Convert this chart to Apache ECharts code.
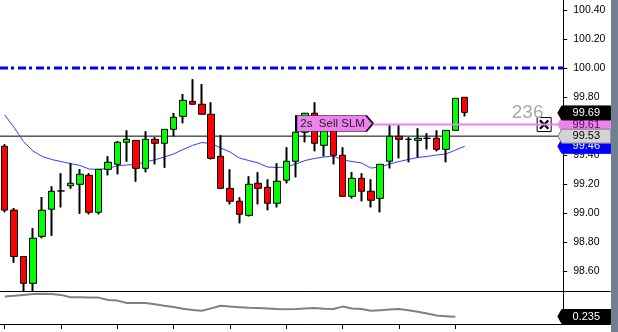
<!DOCTYPE html>
<html><head><meta charset="utf-8">
<script src="https://cdn.jsdelivr.net/npm/echarts@6/dist/echarts.min.js"></script>
<style>html,body{margin:0;padding:0;background:#fff;overflow:hidden}#c{width:618px;height:332px}</style>
</head><body><div id="c"></div>
<script>
// ---- data ----
const slots = Array.from({length: 65}, (_, i) => String(i + 1)); // time slots (50 bars + empty space)
// [open, close, low, high]
const ohlc = [
  [99.460, 99.020, 99.005, 99.474],
  [99.020, 98.700, 98.657, 99.034],
  [98.700, 98.515, 98.462, 98.700],
  [98.515, 98.826, 98.462, 98.895],
  [98.839, 99.019, 98.826, 99.110],
  [99.026, 99.150, 98.843, 99.184],
  [99.152, 99.152, 99.039, 99.274],
  [99.188, 99.205, 99.168, 99.343],
  [99.198, 99.267, 98.995, 99.303],
  [99.260, 99.005, 98.991, 99.274],
  [99.005, 99.301, 98.991, 99.301],
  [99.301, 99.350, 99.260, 99.391],
  [99.336, 99.488, 99.267, 99.495],
  [99.488, 99.508, 99.354, 99.570],
  [99.501, 99.308, 99.216, 99.501],
  [99.308, 99.508, 99.281, 99.563],
  [99.508, 99.481, 99.336, 99.522],
  [99.481, 99.577, 99.312, 99.577],
  [99.577, 99.660, 99.529, 99.690],
  [99.667, 99.777, 99.619, 99.821],
  [99.770, 99.750, 99.750, 99.922],
  [99.750, 99.681, 99.681, 99.890],
  [99.681, 99.377, 99.370, 99.763],
  [99.391, 99.170, 99.170, 99.536],
  [99.170, 99.081, 99.060, 99.301],
  [99.081, 98.991, 98.929, 99.108],
  [98.984, 99.198, 98.977, 99.253],
  [99.205, 99.170, 99.060, 99.281],
  [99.177, 99.067, 99.019, 99.232],
  [99.067, 99.219, 99.039, 99.343],
  [99.226, 99.357, 99.205, 99.453],
  [99.357, 99.557, 99.246, 99.560],
  [99.557, 99.688, 99.488, 99.690],
  [99.688, 99.481, 99.426, 99.763],
  [99.467, 99.580, 99.391, 99.600],
  [99.580, 99.398, 99.336, 99.600],
  [99.398, 99.115, 99.115, 99.453],
  [99.115, 99.239, 99.101, 99.281],
  [99.239, 99.150, 99.081, 99.274],
  [99.150, 99.088, 99.039, 99.232],
  [99.101, 99.336, 99.005, 99.336],
  [99.357, 99.529, 99.308, 99.605],
  [99.529, 99.508, 99.377, 99.605],
  [99.508, 99.508, 99.350, 99.522],
  [99.501, 99.515, 99.384, 99.584],
  [99.515, 99.515, 99.439, 99.550],
  [99.515, 99.439, 99.426, 99.570],
  [99.439, 99.570, 99.350, 99.570],
  [99.570, 99.791, 99.570, 99.791],
  [99.798, 99.694, 99.667, 99.798]
];
const maValues = [99.676, 99.590, 99.493, 99.428, 99.390, 99.369, 99.355, 99.341, 99.328, 99.303,
  99.301, 99.307, 99.326, 99.331, 99.336, 99.352, 99.367, 99.386, 99.407, 99.438,
  99.466, 99.486, 99.479, 99.448, 99.421, 99.379, 99.362, 99.345, 99.317, 99.314,
  99.317, 99.338, 99.362, 99.376, 99.386, 99.393, 99.366, 99.355, 99.345, 99.310,
  99.317, 99.338, 99.355, 99.369, 99.383, 99.390, 99.400, 99.407, 99.434, 99.460];
const indicator = [0.302, 0.304, 0.307, 0.310, 0.311, 0.310, 0.307, 0.299, 0.299, 0.298,
  0.298, 0.290, 0.288, 0.280, 0.280, 0.280, 0.276, 0.271, 0.267, 0.261,
  0.257, 0.254, 0.262, 0.271, 0.268, 0.266, 0.264, 0.263, 0.262, 0.260,
  0.259, 0.260, 0.262, 0.263, 0.261, 0.260, 0.268, 0.262, 0.260, 0.254,
  0.256, 0.258, 0.260, 0.256, 0.251, 0.245, 0.238, 0.236, 0.234, null];
const roundLevel = 100.00;
const refLevel = 99.53;
const signalLevel = 99.61;
const signalText = '2s  Sell SLM';
const countText = '236';
const signalStart = 39.2, signalLabelAt = 35.14, countAt = 55.7, closeBoxAt = 57.46;
const lineEnd = 59.5;
const tickEvery = 6;
const tags = [ // drawn in this order
  {axis: 0, value: 99.61, bg: '#ee82ee', fg: '#4a0a4a', border: '#ee82ee', text: '99.61'},
  {axis: 0, value: 99.46, bg: '#0000ff', fg: '#ffffff', border: '#0000ff', text: '99.46'},
  {axis: 0, value: 99.69, bg: '#000000', fg: '#ffffff', border: '#000000', text: '99.69'},
  {axis: 0, value: 99.53, bg: '#d3d3d3', fg: '#000000', border: '#808080', text: '99.53'},
  {axis: 1, value: 0.235, bg: '#000000', fg: '#ffffff', border: '#000000', text: '0.235'}
];

const FONT = "'Liberation Sans', Arial, sans-serif";
const chart = echarts.init(document.getElementById('c'), null, {renderer: 'canvas'});
const BAND = 9.41;
const option = {
  animation: false,
  backgroundColor: '#ffffff',
  textStyle: {fontFamily: FONT},
  grid: [
    {left: -1.4, top: 0, width: BAND * 65, height: 291},
    {left: -1.4, top: 291, width: BAND * 65, height: 33}
  ],
  xAxis: [
    {type: 'category', gridIndex: 0, data: slots, boundaryGap: true,
     axisLine: {show: true, onZero: false, lineStyle: {color: '#000', width: 1}},
     axisTick: {show: false}, axisLabel: {show: false}, splitLine: {show: false}},
    {type: 'category', gridIndex: 1, data: slots, boundaryGap: true,
     axisLine: {show: true, onZero: false, lineStyle: {color: '#000', width: 1}},
     axisTick: {show: true, alignWithLabel: true, length: 5, lineStyle: {color: '#000'},
       interval: (idx) => idx % tickEvery === 0 && idx < ohlc.length},
     axisLabel: {show: false}, splitLine: {show: false}},
    {type: 'value', gridIndex: 0, min: -0.5, max: 64.5, show: false,
     axisLine: {show: false, onZero: false}, splitLine: {show: false}}
  ],
  yAxis: [
    {type: 'value', gridIndex: 0, position: 'right', offset: -BAND * 5,
     min: 98.462, max: 100.469, minInterval: 0.2, maxInterval: 0.2, splitNumber: 10,
     axisLine: {show: true, onZero: false, lineStyle: {color: '#000', width: 1}},
     axisTick: {show: true, length: 4, lineStyle: {color: '#000'}},
     axisLabel: {show: true, margin: 10, color: '#000', fontSize: 10.5, fontFamily: FONT,
       formatter: v => v.toFixed(2), showMinLabel: false, showMaxLabel: false},
     splitLine: {show: false}},
    {type: 'value', gridIndex: 1, position: 'right', offset: -BAND * 5, min: 0.21, max: 0.32,
     axisLine: {show: true, onZero: false, lineStyle: {color: '#000', width: 1}},
     axisTick: {show: false}, axisLabel: {show: false}, splitLine: {show: false}}
  ],
  series: [
    {name: 'ref', type: 'line', xAxisIndex: 2, yAxisIndex: 0, data: [[-0.5, refLevel], [lineEnd, refLevel]],
     symbol: 'none', z: 1, silent: true, lineStyle: {color: '#000', width: 1}},
    {name: 'round', type: 'line', xAxisIndex: 2, yAxisIndex: 0, data: [[-0.5, roundLevel], [lineEnd, roundLevel]],
     symbol: 'none', z: 1, silent: true, lineStyle: {color: '#0000ff', width: 3, type: [8, 3, 3, 4]}},
    {name: 'MA', type: 'line', xAxisIndex: 0, yAxisIndex: 0, data: maValues, symbol: 'none', z: 2,
     lineStyle: {color: '#3a3aff', width: 1}},
    {name: 'wick', type: 'candlestick', xAxisIndex: 0, yAxisIndex: 0, data: ohlc, barWidth: 1, z: 3, silent: true,
     itemStyle: {color: '#000', color0: '#000', borderColor: '#000', borderColor0: '#000', borderColorDoji: '#000', borderWidth: 2}},
    {name: 'candle', type: 'candlestick', xAxisIndex: 0, yAxisIndex: 0, data: ohlc, barWidth: 7, z: 4,
     itemStyle: {color: '#00ff00', color0: '#ff0000', borderColor: '#000', borderColor0: '#000', borderColorDoji: '#000', borderWidth: 1}},
    {name: 'signal', type: 'line', xAxisIndex: 2, yAxisIndex: 0, data: [[signalStart, signalLevel], [lineEnd, signalLevel]],
     symbol: 'none', z: 6, silent: true, lineStyle: {color: '#ee82ee', width: 2},
     markPoint: {silent: true, animation: false, data: [
       {coord: [signalLabelAt, signalLevel], symbol: 'path://M0,0L70,0L77,8L70,16L0,16Z', symbolSize: [77, 16],
        symbolOffset: [0, -1], itemStyle: {color: '#ee82ee', borderColor: '#000', borderWidth: 1},
        label: {show: true, position: 'inside', formatter: signalText, color: '#222', fontSize: 11.5, fontFamily: FONT, offset: [-2, 0]}},
       {coord: [countAt, signalLevel], symbol: 'circle', symbolSize: 1, itemStyle: {color: 'rgba(0,0,0,0)'},
        label: {show: true, position: 'top', distance: 2, formatter: countText, color: '#a8a8a8', fontSize: 19, fontFamily: FONT}},
       {coord: [closeBoxAt, signalLevel], symbol: 'rect', symbolSize: 14,
        itemStyle: {color: '#fff', borderColor: '#000', borderWidth: 1}, label: {show: false}},
       {coord: [closeBoxAt, signalLevel], symbol: 'path://M0,2L2,0L6,4L10,0L12,2L8,6L12,10L10,12L6,8L2,12L0,10L4,6Z',
        symbolSize: 10, itemStyle: {color: '#000'}, label: {show: false}}
     ]}},
    {name: 'ind', type: 'line', xAxisIndex: 1, yAxisIndex: 1, data: indicator, symbol: 'none', z: 2,
     lineStyle: {color: '#808080', width: 2}}
  ]
};
chart.setOption(option);

const ax = chart.convertToPixel({xAxisIndex: 2}, lineEnd);
const graphics = [];
tags.forEach((t, i) => {
  const y = chart.convertToPixel({yAxisIndex: t.axis}, t.value);
  const h = 14, tip = ax - 5.5, l = ax - 1.5, r = ax + 47.5;
  graphics.push({type: 'polygon', z: 100 + i * 2, silent: true,
    shape: {points: [[tip, y], [l, y - h / 2], [r, y - h / 2], [r, y + h / 2], [l, y + h / 2]]},
    style: {fill: t.bg, stroke: t.border, lineWidth: 1}});
  graphics.push({type: 'text', z: 101 + i * 2, silent: true, x: (l + r) / 2, y: y,
    style: {text: t.text, fill: t.fg, font: '11px ' + FONT, align: 'center', verticalAlign: 'middle',
            textAlign: 'center', textVerticalAlign: 'middle'}});
});
graphics.push({type: 'rect', z: 200, silent: true, shape: {x: chart.getWidth() - 7, y: 0, width: 7, height: chart.getHeight()},
  style: {fill: '#708090'}});
chart.setOption({graphic: graphics});
</script>
</body></html>
